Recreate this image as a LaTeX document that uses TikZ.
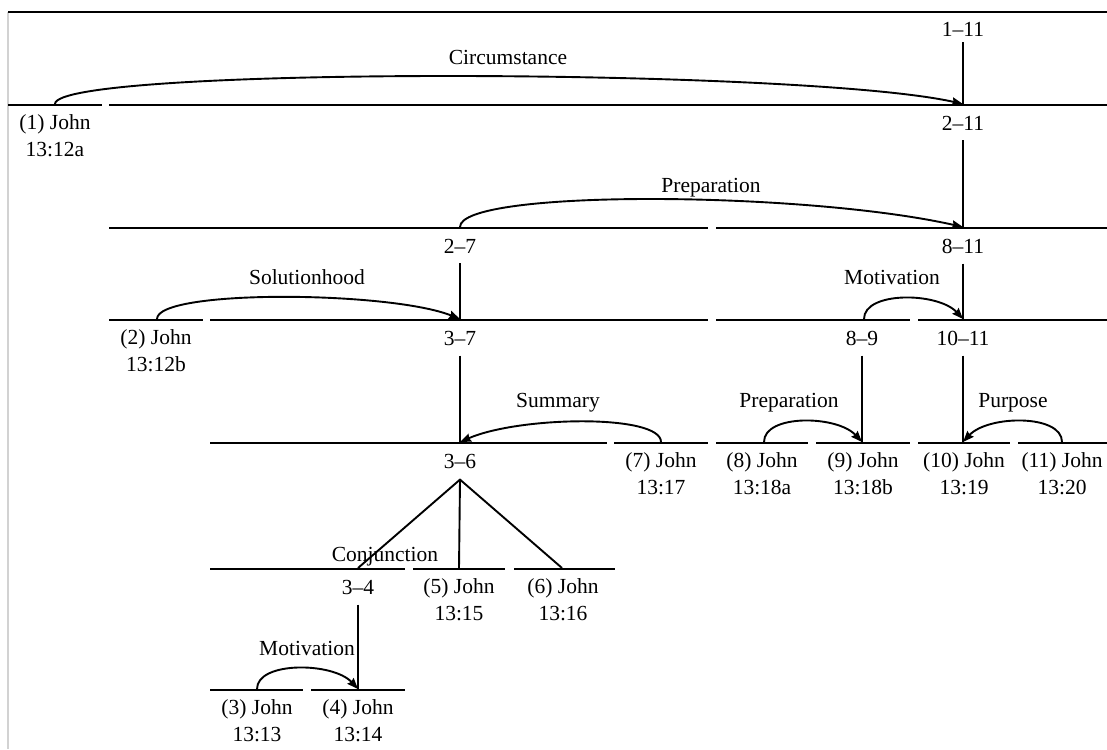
\documentclass[tikz,border=0pt]{standalone}
\usepackage{fontspec}
\setmainfont{Liberation Serif}
\usetikzlibrary{arrows.meta}
\begin{document}
\begin{tikzpicture}[x=0.5pt, y=-0.5pt, >={Stealth[length=5.5pt, width=4.2pt, inset=0.6pt]},
    seg/.style={line width=1.2pt},
    nucline/.style={line width=0.95pt, shorten <=5pt},
    rel/.style={->, line width=0.95pt},
    lbl/.style={inner sep=0pt, font=\fontsize{10.75}{13.5}\selectfont, align=center}]
    \useasboundingbox (0,0) rectangle (1107,749);
    \draw[gray!35, line width=0.6pt] (8,12) -- (8,749);

    % segments, one row after the other
    \draw[seg] (8,12) -- (1107,12);
    \draw[seg] (8,105) -- (102,105) (109,105) -- (1107,105);
    \draw[seg] (109,228) -- (708,228) (716,228) -- (1107,228);
    \draw[seg] (109,320) -- (203,320) (210,320) -- (708,320)
               (716,320) -- (910,320) (918,320) -- (1107,320);
    \draw[seg] (210,443) -- (607,443) (614,443) -- (708,443)
               (716,443) -- (808,443) (816,443) -- (910,443)
               (918,443) -- (1010,443) (1018,443) -- (1107,443);
    \draw[seg] (210,569) -- (405,569) (413,569) -- (505,569) (514,569) -- (615,569);
    \draw[seg] (210,690) -- (303,690) (311,690) -- (405,690);

    % attachment points
    \coordinate (t1) at (55,104);
    \coordinate (t2to11) at (963,104);
    \coordinate (t2to7) at (460,227);
    \coordinate (t8to11) at (963,227);
    \coordinate (t2) at (157,319);
    \coordinate (t3to7) at (460,319);
    \coordinate (t8to9) at (864,319);
    \coordinate (t10to11) at (963,319);
    \coordinate (t3to6) at (460,442);
    \coordinate (t7) at (661,442);
    \coordinate (t8) at (764,442);
    \coordinate (t9) at (862,442);
    \coordinate (t10) at (963,442);
    \coordinate (t11) at (1062,442);
    \coordinate (t3to4) at (358,568);
    \coordinate (t5) at (459,568);
    \coordinate (t6) at (562,568);
    \coordinate (t3) at (257,689);
    \coordinate (t4) at (358,689);

    % span labels
    \node[lbl, anchor=base] (s1to11) at (963,37) {1--11};
    \node[lbl, anchor=base] (s2to11) at (963,130) {2--11};
    \node[lbl, anchor=base] (s2to7) at (460,253) {2--7};
    \node[lbl, anchor=base] (s8to11) at (963,253) {8--11};
    \node[lbl, anchor=base] (s3to7) at (460,345) {3--7};
    \node[lbl, anchor=base] (s8to9) at (862,345) {8--9};
    \node[lbl, anchor=base] (s10to11) at (963,345) {10--11};
    \node[lbl, anchor=base] (s3to6) at (460,468) {3--6};
    \node[lbl, anchor=base] (s3to4) at (358,594) {3--4};

    % leaves
    \node[lbl, anchor=north] (l1) at (55,114) {(1) John\\13:12a};
    \node[lbl, anchor=north] (l2) at (156,329) {(2) John\\13:12b};
    \node[lbl, anchor=north] (l3) at (257,699) {(3) John\\13:13};
    \node[lbl, anchor=north] (l4) at (358,699) {(4) John\\13:14};
    \node[lbl, anchor=north] (l5) at (459,578) {(5) John\\13:15};
    \node[lbl, anchor=north] (l6) at (563,578) {(6) John\\13:16};
    \node[lbl, anchor=north] (l7) at (661,452) {(7) John\\13:17};
    \node[lbl, anchor=north] (l8) at (762,452) {(8) John\\13:18a};
    \node[lbl, anchor=north] (l9) at (863,452) {(9) John\\13:18b};
    \node[lbl, anchor=north] (l10) at (964,452) {(10) John\\13:19};
    \node[lbl, anchor=north] (l11) at (1062,452) {(11) John\\13:20};

    % relation names
    \node[lbl, anchor=base] (rCirc) at (508,65) {Circumstance};
    \node[lbl, anchor=base] (rPrepA) at (711,192) {Preparation};
    \node[lbl, anchor=base] (rSol) at (307,284) {Solutionhood};
    \node[lbl, anchor=base] (rMotA) at (892,284) {Motivation};
    \node[lbl, anchor=base] (rSum) at (558,407) {Summary};
    \node[lbl, anchor=base] (rPrepB) at (789,407) {Preparation};
    \node[lbl, anchor=base] (rPurp) at (1013,407) {Purpose};
    \node[lbl, anchor=base] (rConj) at (385,561) {Conjunction};
    \node[lbl, anchor=base] (rMotB) at (307,655) {Motivation};

    % nucleus lines
    \draw[nucline, shorten <=2.5pt] (s1to11) -- (t2to11);
    \draw[nucline] (s2to11) -- (t8to11);
    \draw[nucline] (s2to7) -- (t3to7);
    \draw[nucline] (s8to11) -- (t10to11);
    \draw[nucline] (s3to7) -- (t3to6);
    \draw[nucline] (s8to9) -- (t9);
    \draw[nucline] (s10to11) -- (t10);
    \draw[nucline] (s3to4) -- (t4);

    % multinuclear fan
    \coordinate (a3to6) at ([yshift=-5.5pt]s3to6.south);
    \draw[line width=0.95pt] (t3to4) -- (a3to6) -- (t6) (a3to6) -- (t5);

    % relation arcs
    \draw[rel] (t1) .. controls +(0,-38) and +(-160,-36) .. (t2to11);
    \draw[rel] (t2to7) .. controls +(0,-38) and +(-160,-36) .. (t8to11);
    \draw[rel] (t2) .. controls +(0,-30) and +(-70,-28) .. (t3to7);
    \draw[rel] (t8to9) .. controls +(0,-28) and +(-25,-27) .. (t10to11);
    \draw[rel] (t7) .. controls +(0,-28) and +(60,-26) .. (t3to6);
    \draw[rel] (t8) .. controls +(0,-28) and +(-25,-27) .. (t9);
    \draw[rel] (t11) .. controls +(0,-28) and +(25,-27) .. (t10);
    \draw[rel] (t3) .. controls +(0,-28) and +(-25,-27) .. (t4);
\end{tikzpicture}
\end{document}
